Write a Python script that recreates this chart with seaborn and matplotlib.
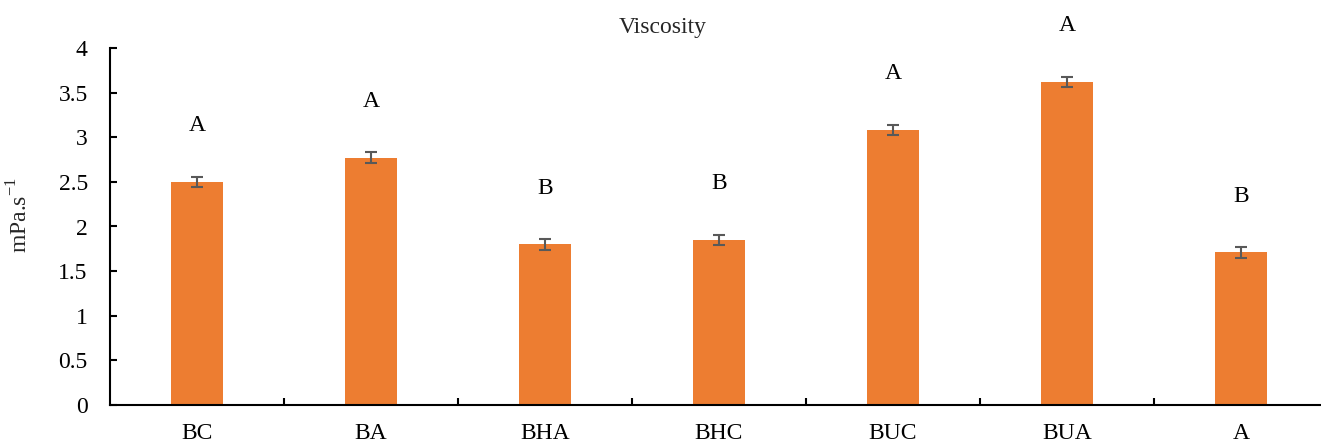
import matplotlib
matplotlib.use("Agg")
import matplotlib.pyplot as plt
import seaborn as sns
import pandas as pd
import numpy as np

categories = ["BC", "BA", "BHA", "BHC", "BUC", "BUA", "A"]
values = [2.50, 2.77, 1.80, 1.85, 3.08, 3.62, 1.71]
errors = [0.06, 0.06, 0.06, 0.06, 0.06, 0.06, 0.06]
letters = ["A", "A", "B", "B", "A", "A", "B"]
yticks = [0, 0.5, 1, 1.5, 2, 2.5, 3, 3.5, 4]
ytick_labels = ["0", "0.5", "1", "1.5", "2", "2.5", "3", "3.5", "4"]

sns.set_theme(style="white")
plt.rcParams['font.family'] = ['Liberation Serif', 'DejaVu Serif']
plt.rcParams['mathtext.fontset'] = 'custom'
plt.rcParams['mathtext.rm'] = 'Liberation Serif'

FS = 17

df = pd.DataFrame({"cat": categories, "val": values})

fig = plt.figure(figsize=(13.21, 4.44), dpi=100)
ax = fig.add_axes([110/1321, 1-405/444, 1218/1321, 357/444])

sns.barplot(data=df, x="cat", y="val", color="#ED7D31", saturation=1,
            width=0.30, errorbar=None, ax=ax, linewidth=0)
x = np.arange(len(categories))
ax.errorbar(x, values, yerr=errors, fmt="none", ecolor="#595959",
            elinewidth=1.5, capsize=4.5, capthick=1.5)
for xi, v, l in zip(x, values, letters):
    ax.text(xi, v + 0.63, l, ha="center", va="center", fontsize=FS,
            color="black", clip_on=False)

ax.set_xlim(-0.5, 6.5)
ax.set_ylim(0, 4)
ax.set_yticks(yticks)
ax.set_yticklabels(ytick_labels, fontsize=FS)
ax.set_xticks(x)
ax.set_xticklabels(categories, fontsize=FS)
ax.set_xticks(np.arange(0.5, 6.5, 1), minor=True)
ax.set_xlabel("")
ax.set_ylabel("")
for s in ["top", "right"]:
    ax.spines[s].set_visible(False)
for s in ["left", "bottom"]:
    ax.spines[s].set_color("black")
    ax.spines[s].set_linewidth(1.5)
ax.tick_params(axis="y", direction="in", length=5, width=1.5, pad=16,
               left=True, colors="black")
ax.tick_params(axis="x", which="major", length=0, pad=13, colors="black")
ax.tick_params(axis="x", which="minor", direction="in", length=5,
               width=1.5, bottom=True, color="black")

fig.text(0.502, 1-28/444, "Viscosity", ha="center", va="center", fontsize=FS)
fig.text(20/1321, 1-215/444, "mPa.s$^{-1}$", rotation=90, ha="center",
         va="center", fontsize=FS)

fig.savefig("out.png", dpi=100)
